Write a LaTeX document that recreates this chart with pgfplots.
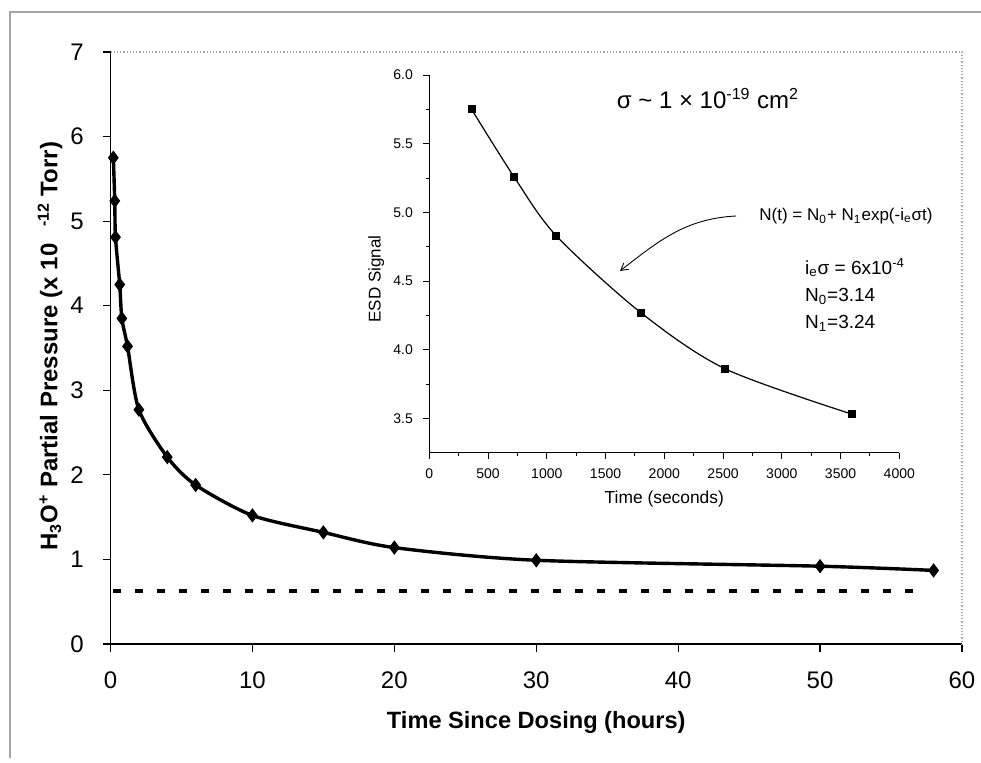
\documentclass[border=0pt]{standalone}
\usepackage{fontspec}
\setmainfont{Liberation Sans}
\usepackage{pgfplots}
\pgfplotsset{compat=1.18}
\usetikzlibrary{arrows.meta}

\begin{document}
\begin{tikzpicture}[x=1pt,y=1pt]
\path[use as bounding box] (0,0) rectangle (490.5,381);
\draw[gray!70, line width=0.6pt] (5,2) -- (5,375) -- (490.5,375);

% main axis
\begin{axis}[
  at={(55.25pt,59pt)}, anchor=south west,
  scale only axis, width=425.75pt, height=296pt,
  xmin=0, xmax=60, ymin=0, ymax=7,
  xtick={0,10,...,60}, ytick={0,1,...,7},
  axis lines*=left, axis line style={-, black, line width=0.6pt},
  tick align=outside, major tick length=3.8pt,
  tick style={black, line width=0.6pt},
  /pgf/number format/assume math mode=true,
  ticklabel style={font=\fontsize{12}{14}\selectfont},
  xticklabel style={yshift=-6.5pt},
  yticklabel style={xshift=-6pt},
  xlabel={Time Since Dosing (hours)},
  xlabel style={at={(axis description cs:0.5,-0.133)}, anchor=center, font=\fontsize{11.8}{14}\selectfont\bfseries},
  ylabel={H\textsubscript{3}O\textsuperscript{+} Partial Pressure (x 10\hspace{0.7em}\textsuperscript{-12} Torr)},
  ylabel style={at={(axis description cs:-0.071,0.503)}, anchor=center, font=\fontsize{12}{14}\selectfont\bfseries},
  clip=false,
]
\draw[gray!70, densely dotted, line width=0.6pt] (axis cs:0,7) -- (axis cs:60,7) -- (axis cs:60,0);
\addplot[black, line width=2pt, dash pattern=on 4pt off 7pt] coordinates {(0.2,0.625) (56.8,0.625)};
\addplot[black, line width=1.7pt, smooth, tension=0.45, mark=diamond*, mark size=3.2pt, mark options={solid, line width=0.5pt}] coordinates {
  (0.2,5.75) (0.3,5.24) (0.35,4.81) (0.65,4.25) (0.8,3.85) (1.2,3.52)
  (2,2.77) (4,2.21) (6,1.88) (10,1.52) (15,1.32) (20,1.14)
  (30,0.99) (50,0.92) (58,0.87)
};
\end{axis}

% inset axis
\begin{axis}[
  at={(214.65pt,154.65pt)}, anchor=south west,
  scale only axis, width=235pt, height=188.85pt,
  xmin=0, xmax=4000, ymin=3.25, ymax=6,
  xtick={0,500,...,4000}, ytick={3.5,4,...,6},
  minor x tick num=1, minor y tick num=1,
  axis lines*=left, axis line style={-, black, line width=0.5pt},
  tick align=outside, major tick length=3pt, minor tick length=1.5pt,
  tick style={black, line width=0.45pt},
  /pgf/number format/assume math mode=true,
  /pgf/number format/1000 sep={},
  ticklabel style={font=\fontsize{7}{8}\selectfont},
  xticklabel style={yshift=-1.7pt},
  yticklabel style={xshift=-1.7pt, /pgf/number format/.cd, fixed, fixed zerofill, precision=1},
  xlabel={Time (seconds)},
  xlabel style={at={(axis description cs:0.5,-0.122)}, anchor=center, font=\fontsize{8.7}{10}\selectfont},
  ylabel={ESD Signal},
  ylabel style={at={(axis description cs:-0.113,0.46)}, anchor=center, font=\fontsize{8.5}{10}\selectfont},
  clip=false,
]
\addplot[black, line width=0.6pt, smooth, tension=0.5, mark=square*, mark size=1.7pt, mark options={solid}] coordinates {
  (360,5.75) (720,5.26) (1080,4.83) (1800,4.27) (2520,3.86) (3600,3.53)
};
\end{axis}

\node[anchor=base, font=\fontsize{12}{14}\selectfont] at (354,326.7) {σ \textasciitilde\ 1 × 10\textsuperscript{-19} cm\textsuperscript{2}};
\node[anchor=base, font=\fontsize{8.5}{10}\selectfont] at (423,270.5) {N(t) = N\textsubscript{0}+ N\textsubscript{1}exp(-i\textsubscript{e}σt)};
\draw[black, line width=0.45pt, -{Straight Barb[length=3.5pt,width=4pt]}] (368,273) to[out=183,in=38] (310,245.5);
\node[anchor=base west, font=\fontsize{9.5}{11}\selectfont] at (399,243.6) {i\textsubscript{e}σ = 6x10\textsuperscript{-4}};
\node[anchor=base west, font=\fontsize{9.5}{11}\selectfont] at (399,230.1) {N\textsubscript{0}=3.14};
\node[anchor=base west, font=\fontsize{9.5}{11}\selectfont] at (399,216.6) {N\textsubscript{1}=3.24};
\end{tikzpicture}
\end{document}
